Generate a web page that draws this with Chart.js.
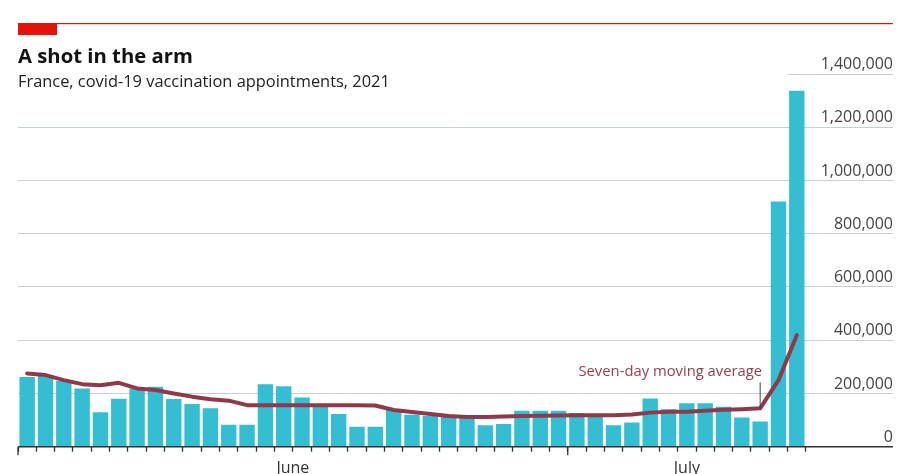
<!DOCTYPE html>
<html>
<head>
<meta charset="utf-8">
<script src="https://cdn.jsdelivr.net/npm/chart.js@4"></script>
<style>
  html, body { margin: 0; padding: 0; background: #fff; }
</style>
</head>
<body>
<canvas id="chart" width="916" height="474"></canvas>
<script>
const FONT = '"Open Sans", sans-serif';
const title = 'A shot in the arm';
const subtitle = 'France, covid-19 vaccination appointments, 2021';

const days = [
  'Jun 1', 'Jun 2', 'Jun 3', 'Jun 4', 'Jun 5', 'Jun 6', 'Jun 7', 'Jun 8', 'Jun 9', 'Jun 10',
  'Jun 11', 'Jun 12', 'Jun 13', 'Jun 14', 'Jun 15', 'Jun 16', 'Jun 17', 'Jun 18', 'Jun 19', 'Jun 20',
  'Jun 21', 'Jun 22', 'Jun 23', 'Jun 24', 'Jun 25', 'Jun 26', 'Jun 27', 'Jun 28', 'Jun 29', 'Jun 30',
  'Jul 1', 'Jul 2', 'Jul 3', 'Jul 4', 'Jul 5', 'Jul 6', 'Jul 7', 'Jul 8', 'Jul 9', 'Jul 10',
  'Jul 11', 'Jul 12', 'Jul 13'
];
const appointments = [
  262000, 268000, 247000, 219000, 129000, 180000, 219000, 225000, 179000, 160000,
  144000, 82000, 82000, 235000, 227000, 185000, 152000, 123000, 75000, 75000,
  138000, 120000, 115000, 117000, 112000, 81000, 85000, 135000, 135000, 135000,
  127000, 122000, 81000, 91000, 181000, 141000, 163000, 163000, 150000, 110000,
  95000, 921000, 1337000
];
const movingAverage = [
  275000, 269000, 250000, 235000, 231000, 240000, 219000, 213000, 200000, 188000,
  178000, 173000, 156000, 156000, 156000, 156000, 156000, 156000, 156000, 155000,
  138000, 130000, 123000, 115000, 112000, 112000, 113000, 115000, 116000, 117000,
  118000, 118000, 118000, 121000, 128000, 131000, 131000, 135000, 139000, 141000,
  144000, 250000, 419000
];
const monthNames = { Jun: 'June', Jul: 'July' };
const yTicks = [0, 200000, 400000, 600000, 800000, 1000000, 1200000, 1400000];
const annotationText = 'Seven-day moving average';
const annotationDay = 'Jul 11';

// month spans worked out from the day list
const months = [];
days.forEach((d, i) => {
  const m = monthNames[d.split(' ')[0]];
  const last = months[months.length - 1];
  if (!last || last.name !== m) months.push({ name: m, start: i, end: i + 1 });
  else last.end = i + 1;
});
months.forEach(m => m.center = (m.start + m.end) / 2);

const GRID = '#C5CFD4';
const topTick = yTicks[yTicks.length - 1];

const header = {
  id: 'header',
  beforeDraw(chart) {
    const c = chart.ctx;
    c.save();
    c.fillStyle = '#fff';
    c.fillRect(0, 0, chart.width, chart.height);
    c.fillStyle = '#E3120B';
    c.fillRect(18, 23, 39, 12);
    c.fillRect(18, 23, 875, 1.2);
    c.fillStyle = '#121212';
    c.font = 'bold 20.3px ' + FONT;
    c.fillText(title, 18, 63);
    c.fillStyle = '#222';
    c.font = '16.4px ' + FONT;
    c.fillText(subtitle, 18, 87);
    c.restore();
  }
};

// the top gridline only runs under its label
const topGrid = {
  id: 'topGrid',
  beforeDatasetsDraw(chart) {
    const xs = chart.scales.x, ys = chart.scales.y, c = chart.ctx;
    const py = Math.round(ys.getPixelForValue(topTick)) + 0.5;
    c.save();
    c.strokeStyle = GRID;
    c.lineWidth = 1;
    c.beginPath();
    c.moveTo(xs.getPixelForValue(days.length - 1), py);
    c.lineTo(chart.chartArea.right, py);
    c.stroke();
    c.restore();
  }
};

const annotation = {
  id: 'annotation',
  afterDatasetsDraw(chart) {
    const xs = chart.scales.x, ys = chart.scales.y, c = chart.ctx;
    const i = days.indexOf(annotationDay);
    const px = xs.getPixelForValue(i + 0.5);
    const py = ys.getPixelForValue(movingAverage[i]);
    c.save();
    c.strokeStyle = '#444';
    c.lineWidth = 1;
    c.beginPath();
    c.moveTo(px, py - 26);
    c.lineTo(px, py);
    c.stroke();
    c.fillStyle = '#96414F';
    c.font = '14.8px ' + FONT;
    c.textAlign = 'right';
    c.fillText(annotationText, px + 2, py - 32);
    c.restore();
  }
};

// longer tick at the start of each month
const monthTicks = {
  id: 'monthTicks',
  afterDraw(chart) {
    const xs = chart.scales.x, c = chart.ctx;
    c.save();
    c.strokeStyle = '#333';
    c.lineWidth = 1.3;
    months.forEach(m => {
      const px = xs.getPixelForValue(m.start);
      c.beginPath();
      c.moveTo(px, xs.top);
      c.lineTo(px, xs.top + 8.5);
      c.stroke();
    });
    c.restore();
  }
};

new Chart(document.getElementById('chart'), {
  type: 'bar',
  data: {
    datasets: [
      {
        type: 'line',
        label: annotationText,
        data: days.map((d, i) => ({ x: i + 0.5, y: movingAverage[i] })),
        borderColor: '#8E3A4C',
        borderWidth: 4,
        pointRadius: 0,
        borderJoinStyle: 'round',
        borderCapStyle: 'round',
        order: 0
      },
      {
        label: 'Appointments',
        data: days.map((d, i) => ({ x: i + 0.5, y: appointments[i] })),
        backgroundColor: '#35BDD1',
        barPercentage: 1,
        categoryPercentage: 0.84,
        order: 1
      }
    ]
  },
  options: {
    responsive: false,
    animation: false,
    layout: { padding: { top: 74, left: 18, right: 23, bottom: 0 } },
    plugins: { legend: { display: false }, tooltip: { enabled: false } },
    scales: {
      x: {
        type: 'linear',
        min: 0,
        max: days.length + 4.75, // room on the right for the value labels
        offset: false,
        afterBuildTicks(s) {
          const t = days.map((d, i) => ({ value: i }));
          t.push({ value: days.length });
          months.forEach(m => { if (m.center % 1) t.push({ value: m.center }); });
          s.ticks = t;
        },
        afterFit(s) { s.height = 27.3; },
        grid: {
          offset: false,
          drawOnChartArea: false,
          tickLength: 5,
          tickWidth: 1.3,
          color: '#333',
          tickColor: ctx => (ctx.tick && ctx.tick.value % 1) ? 'rgba(0,0,0,0)' : '#333'
        },
        border: { display: false },
        ticks: {
          autoSkip: false,
          maxRotation: 0,
          padding: 7,
          color: '#333',
          font: { family: FONT, size: 16 },
          callback: v => {
            const m = months.find(m => m.center === v);
            return m ? m.name : '';
          }
        }
      },
      y: {
        position: 'right',
        min: 0,
        max: topTick,
        afterBuildTicks(s) { s.ticks = yTicks.map(v => ({ value: v })); },
        grid: {
          drawTicks: false,
          color: ctx => ctx.tick.value === 0 ? '#333' : (ctx.tick.value === topTick ? 'rgba(0,0,0,0)' : GRID),
          lineWidth: ctx => ctx.tick.value === 0 ? 1.5 : 1
        },
        border: { display: false },
        ticks: {
          mirror: true,
          padding: 0,
          labelOffset: -9.5,
          color: '#444',
          font: { family: FONT, size: 16 },
          callback: v => v.toLocaleString('en-US')
        }
      }
    }
  },
  plugins: [header, topGrid, annotation, monthTicks]
});
</script>
</body>
</html>
